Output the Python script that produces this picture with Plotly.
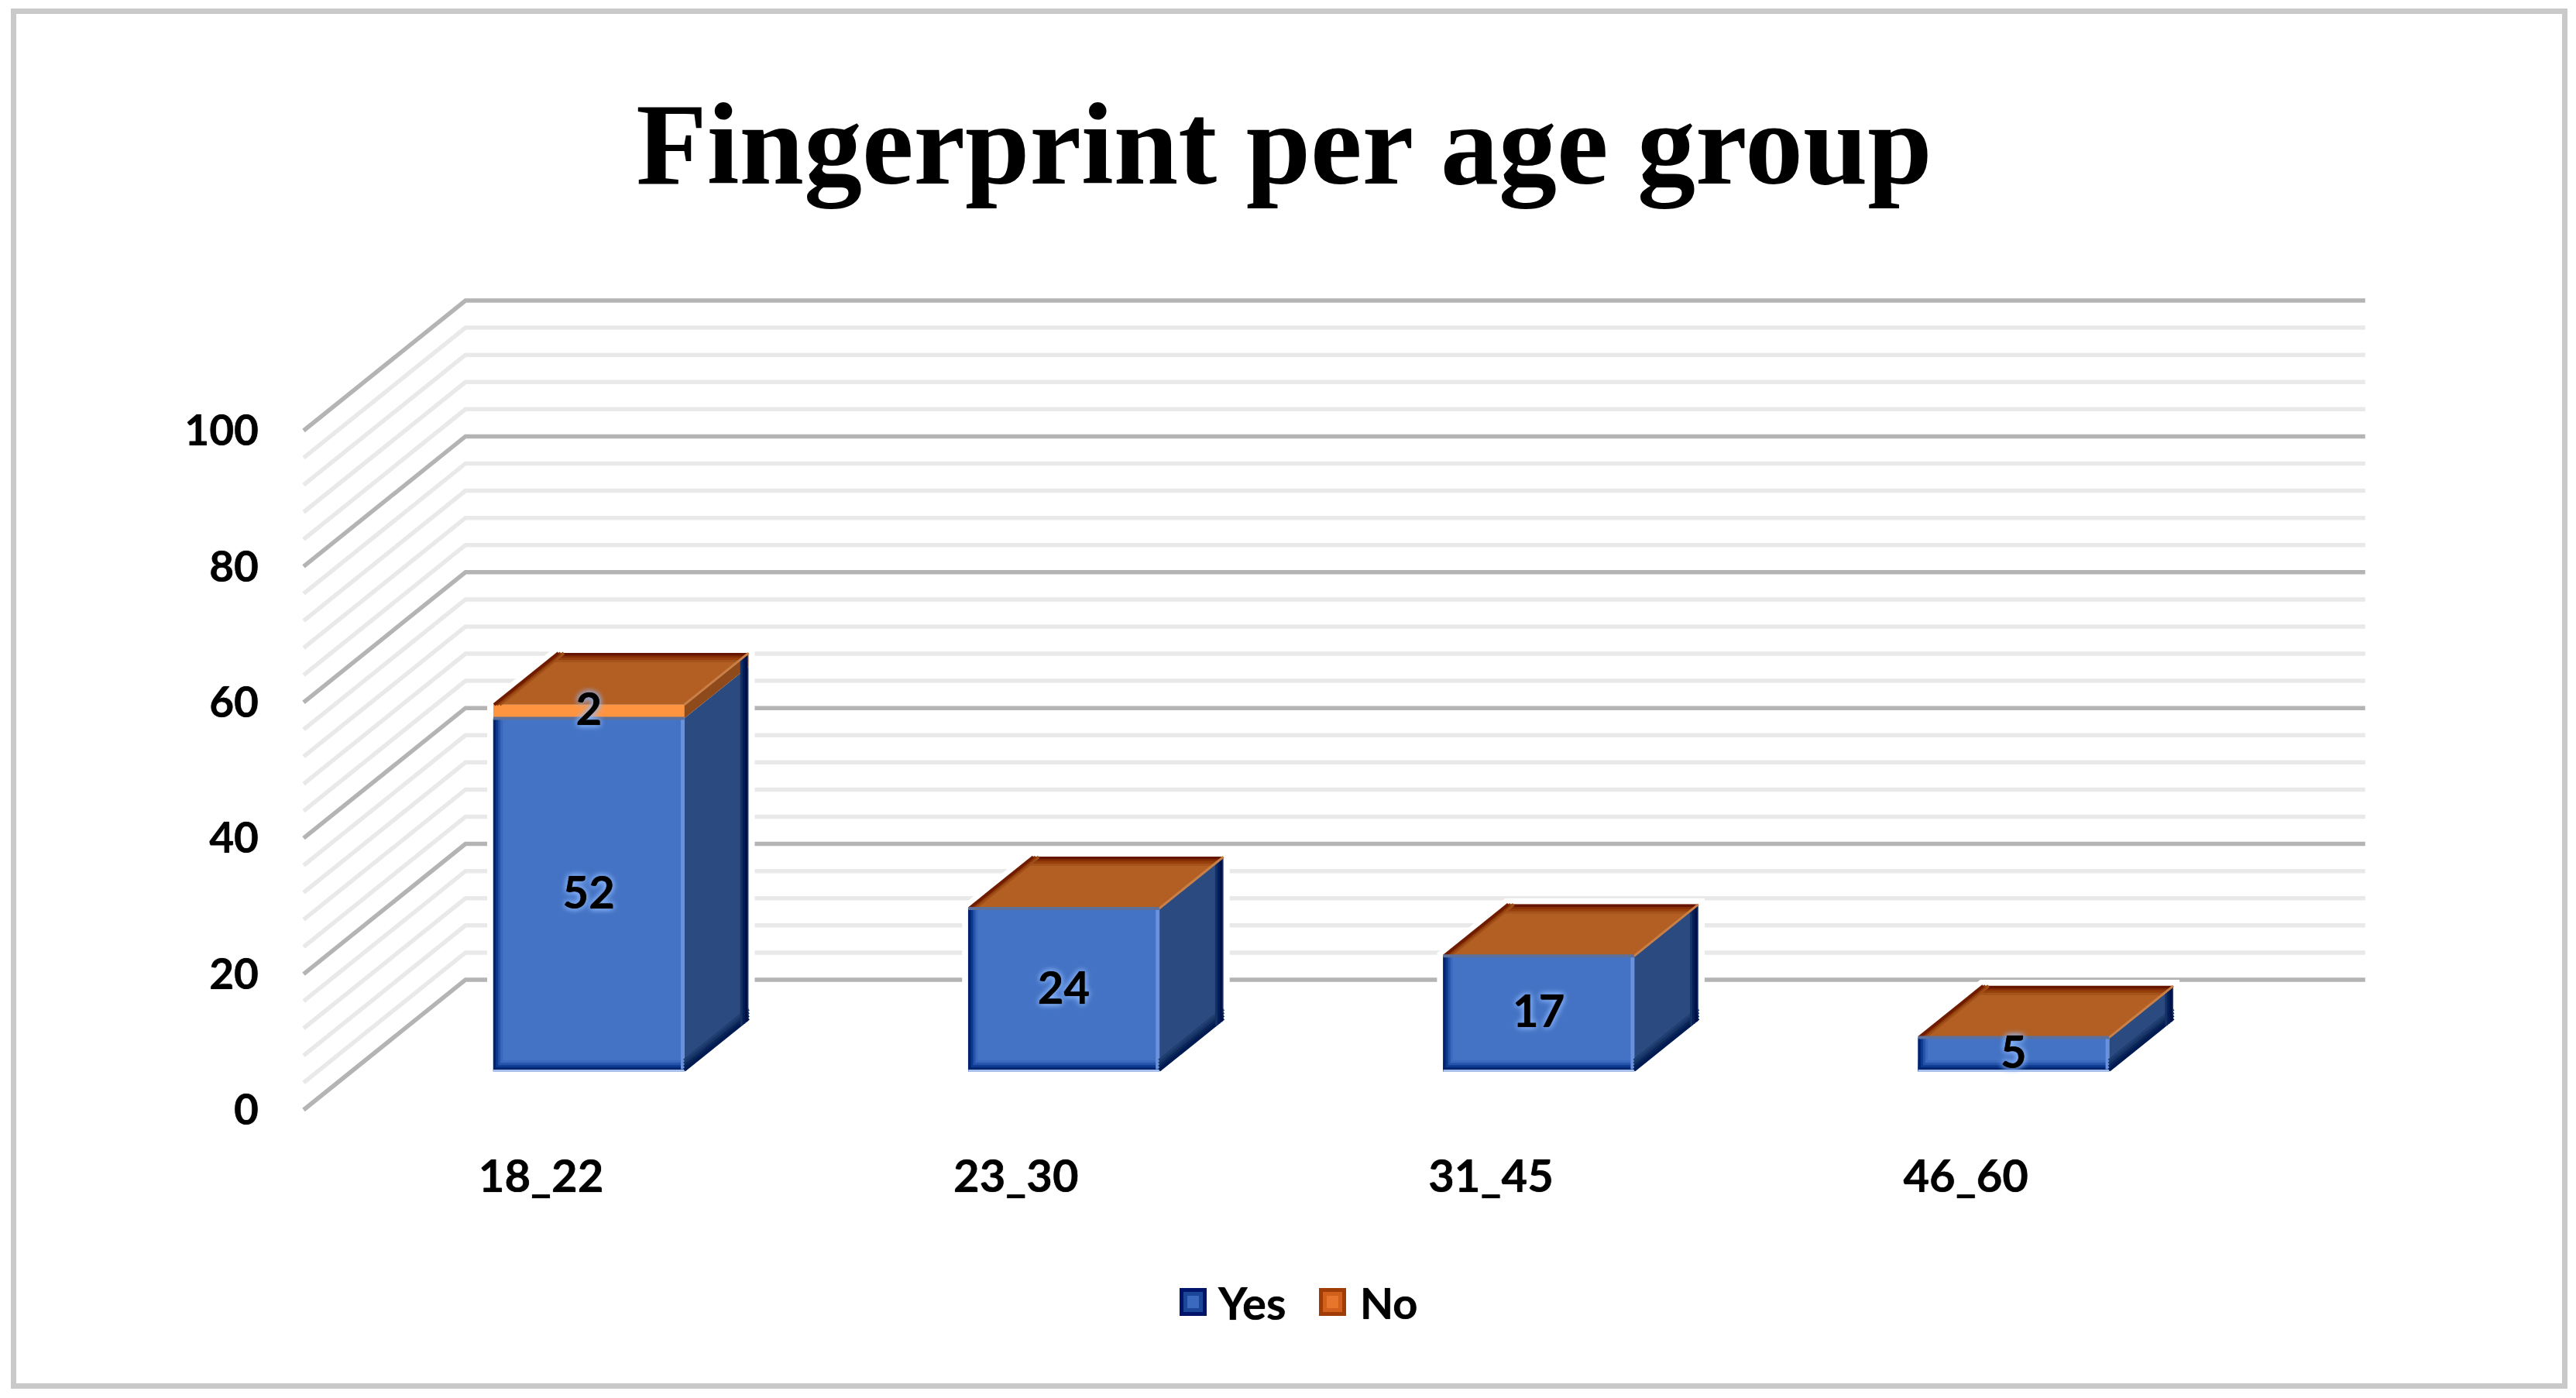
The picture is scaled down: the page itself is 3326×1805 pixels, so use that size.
import plotly.graph_objects as go

# ---- data ----
categories = ["18_22", "23_30", "31_45", "46_60"]
yes_values = [52, 24, 17, 5]
no_values = [2, 0, 0, 0]
major_ticks = [0, 20, 40, 60, 80, 100]
minor_ticks = [v for v in range(0, 101, 4) if v % 20 != 0]
title_text = "Fingerprint per age group"

# ---- geometry of the page / oblique projection ----
W, H = 3326, 1805
PX_PER_CAT = 613.2
PX_PER_UNIT = 8.77
LEFT_PX, BASE_PX = 392, 1433
DEPTH_PX_X, DEPTH_PX_Y = 209, 168
DX = DEPTH_PX_X / PX_PER_CAT
DY = DEPTH_PX_Y / PX_PER_UNIT
BAR_W = 0.402
D_FRONT, D_BACK = 0.295, 0.692
xr = [-0.5 - 10 / PX_PER_CAT, 3.5 + DX + 10 / PX_PER_CAT]
yr = [-1.0, 100 + DY + 1.0]
x_dom = [(LEFT_PX + (xr[0] + 0.5) * PX_PER_CAT) / W, (LEFT_PX + (xr[1] + 0.5) * PX_PER_CAT) / W]
y_dom = [1 - (BASE_PX - yr[0] * PX_PER_UNIT) / H, 1 - (BASE_PX - yr[1] * PX_PER_UNIT) / H]


def ux(px):
    return px / PX_PER_CAT


def uy(px):
    return px / PX_PER_UNIT


def P(x, v, d):
    return x + d * DX, v + d * DY


def poly_trace(polys, color):
    xs, ys = [], []
    for poly in polys:
        xs += [p[0] for p in poly] + [poly[0][0], None]
        ys += [p[1] for p in poly] + [poly[0][1], None]
    return go.Scatter(x=xs, y=ys, mode="lines", fill="toself", fillcolor=color,
                      line=dict(width=0, color=color), hoverinfo="skip",
                      showlegend=False, cliponaxis=False)


def seg_trace(segs, color, width):
    xs, ys = [], []
    for a, b in segs:
        xs += [a[0], b[0], None]
        ys += [a[1], b[1], None]
    return go.Scatter(x=xs, y=ys, mode="lines", line=dict(width=width, color=color),
                      hoverinfo="skip", showlegend=False, cliponaxis=False)


def path(pts, close=False):
    return "M" + " L".join(f"{a},{b}" for a, b in pts) + (" Z" if close else "")


shapes = []
# walls + gridlines
for vals, col, wd in ((minor_ticks, "#e9e9e9", 5.5), (major_ticks, "#b4b4b4", 5.5)):
    for v in vals:
        a = P(-0.5, v, 0)
        b = P(-0.5, v, 1)
        c = P(3.5, v, 1)
        shapes.append(dict(type="path", path=path([a, b, c]), xref="x", yref="y", layer="below",
                           line=dict(color=col, width=wd)))

centers = list(range(len(categories)))
left = [c - BAR_W / 2 for c in centers]
right = [c + BAR_W / 2 for c in centers]
yes_top = list(yes_values)
all_top = [a + b for a, b in zip(yes_values, no_values)]

# white halo round each block
for l, r, t in zip(left, right, all_top):
    sil = [P(l, 0, D_FRONT), P(r, 0, D_FRONT), P(r, 0, D_BACK), P(r, t, D_BACK), P(l, t, D_BACK), P(l, t, D_FRONT)]
    shapes.append(dict(type="path", path=path(sil, True), xref="x", yref="y", layer="below",
                       fillcolor="white", line=dict(color="white", width=16)))

# page frame
shapes.append(dict(type="rect", xref="paper", yref="paper", x0=17.5 / W, x1=3311.5 / W,
                   y0=1 - 1789.5 / H, y1=1 - 14.5 / H, line=dict(color="#c9c9c9", width=7), layer="below"))

# legend swatches
for x0, cols in ((1523, ("#00146a", "#1c4698", "#3c69c0")), (1703, ("#a03c05", "#d0601c", "#e8752c"))):
    for k, col in enumerate(cols):
        shapes.append(dict(type="rect", xref="paper", yref="paper",
                           x0=(x0 + 5 * k) / W, x1=(x0 + 35 - 5 * k) / W,
                           y0=1 - (1699 - 5 * k) / H, y1=1 - (1663 + 5 * k) / H,
                           fillcolor=col, line=dict(width=0), layer="above"))

fig = go.Figure()

# front faces
base0 = D_FRONT * DY
fig.add_trace(go.Bar(x=[c + D_FRONT * DX for c in centers], y=yes_values, base=[base0] * 4,
                     width=BAR_W, name="Yes", marker=dict(color="#4472C4", line=dict(width=0)),
                     showlegend=False, hoverinfo="skip"))
fig.add_trace(go.Bar(x=[c + D_FRONT * DX for c in centers], y=no_values,
                     base=[base0 + v for v in yes_values], width=BAR_W, name="No",
                     marker=dict(color="#FF9440", line=dict(width=0)),
                     showlegend=False, hoverinfo="skip"))

# side and top faces
side_yes = [[P(r, 0, D_FRONT), P(r, 0, D_BACK), P(r, t, D_BACK), P(r, t, D_FRONT)]
            for r, t in zip(right, yes_top)]
side_no = [[P(r, t0, D_FRONT), P(r, t0, D_BACK), P(r, t1, D_BACK), P(r, t1, D_FRONT)]
           for r, t0, t1 in zip(right, yes_top, all_top) if t1 > t0]
tops = [[P(l, t, D_FRONT), P(r, t, D_FRONT), P(r, t, D_BACK), P(l, t, D_BACK)]
        for l, r, t in zip(left, right, all_top)]
fig.add_trace(poly_trace(side_yes, "#2A4A80"))
fig.add_trace(poly_trace(side_no, "#8f4a1c"))
fig.add_trace(poly_trace(tops, "#B35E22"))

# bevel bands: front face, left and bottom
for off, col in ((10.5, "#3a68bd"), (7.5, "#2553aa"), (4.5, "#0d3a90"), (1.5, "#00246e")):
    fig.add_trace(seg_trace([(P(l + ux(off), 0, D_FRONT), P(l + ux(off), t, D_FRONT))
                             for l, t in zip(left, yes_top)], col, 3.5))
    fig.add_trace(seg_trace([(P(l, uy(off + 2), D_FRONT), P(r, uy(off + 2), D_FRONT))
                             for l, r in zip(left, right)], col, 3.5))
fig.add_trace(seg_trace([(P(l, uy(1), D_FRONT), P(r, uy(1), D_FRONT)) for l, r in zip(left, right)], "#a9c0ea", 3))
fig.add_trace(seg_trace([(P(r - ux(2), uy(3), D_FRONT), P(r - ux(2), t, D_FRONT))
                         for r, t in zip(right, yes_top)], "#6a92dc", 5))
# side face, bottom and right
for off, col in ((14, "#213e70"), (10, "#173466"), (6, "#0a2558"), (2, "#001a52")):
    fig.add_trace(seg_trace([(P(r, uy(off), D_FRONT), P(r, uy(off), D_BACK)) for r in right], col, 4.5))
for off, col in ((9, "#163060"), (6, "#001f5c"), (3, "#000f45")):
    d = D_BACK - off / DEPTH_PX_X
    fig.add_trace(seg_trace([(P(r, 0, d), P(r, t, d)) for r, t in zip(right, all_top)], col, 3.5))
# top face, back and left, plus its pale right edge
for off, col in ((10, "#a5531a"), (7, "#963f0c"), (4, "#852e05"), (1.5, "#661500")):
    d = D_BACK - off / DEPTH_PX_Y
    fig.add_trace(seg_trace([(P(l + ux(off * 0.3), t, d), P(r, t, d))
                             for l, r, t in zip(left, right, all_top)], col, 3.5))
for off, col in ((8, "#a04f18"), (4, "#8f3a08"), (1, "#701c00")):
    fig.add_trace(seg_trace([(P(l + ux(off), t, D_FRONT), P(l + ux(off), t, D_BACK))
                             for l, t in zip(left, all_top)], col, 4))
fig.add_trace(seg_trace([(P(r, t, D_FRONT), P(r, t, D_BACK)) for r, t in zip(right, all_top)], "#c98048", 3))
fig.add_trace(seg_trace([(P(l, t, D_FRONT), P(r, t, D_FRONT))
                         for l, r, t in zip(left, right, yes_top)], "#5d7099", 4))

# value labels
LABEL_DROP = uy(3)
lab_x, lab_y, lab_t = [], [], []
for c, y, n in zip(centers, yes_values, no_values):
    lab_x.append(P(c, 0, D_FRONT)[0])
    lab_y.append(P(c, y / 2, D_FRONT)[1] - LABEL_DROP)
    lab_t.append(str(y))
    if n:
        lab_x.append(P(c, 0, D_FRONT)[0])
        lab_y.append(P(c, y + n / 2, D_FRONT)[1] - LABEL_DROP)
        lab_t.append(str(n))
fig.add_trace(go.Scatter(x=lab_x, y=lab_y, text=lab_t, mode="text", textposition="middle center",
                         textfont=dict(family="Lato", size=58, color="black", weight=700,
                                       shadow="0 0 1px #000, 0 0 9px #8fbaff, 0 0 9px #8fbaff"),
                         hoverinfo="skip", showlegend=False, cliponaxis=False))

HEAVY = "0 0 1px #000"
ytick_font = dict(family="Lato", size=55, color="black", weight=700, shadow=HEAVY)
xtick_font = dict(family="Lato", size=58, color="black", weight=700, shadow=HEAVY)
fig.update_layout(
    width=W, height=H, margin=dict(l=0, r=0, t=0, b=0, autoexpand=False),
    paper_bgcolor="white", plot_bgcolor="rgba(0,0,0,0)", showlegend=False, barmode="overlay",
    title=dict(text=title_text, x=0.4985, xanchor="center", y=1 - 184 / H, yanchor="middle",
               font=dict(family="Liberation Serif", size=150, color="black", weight=700)),
    xaxis=dict(domain=x_dom, range=xr, tickmode="array", tickvals=centers, ticktext=categories,
               showgrid=False, zeroline=False, showline=False, ticks="", tickfont=xtick_font,
               ticklabelstandoff=38, automargin=False),
    yaxis=dict(domain=y_dom, range=yr, tickmode="array", tickvals=major_ticks,
               ticktext=[str(v) for v in major_ticks],
               showgrid=False, zeroline=False, showline=False, ticks="", tickfont=ytick_font,
               ticklabelstandoff=47, automargin=False),
    shapes=shapes,
    annotations=[
        dict(text="Yes", xref="paper", yref="paper", x=1570 / W, y=1 - 1681 / H, xanchor="left",
             yanchor="middle", showarrow=False,
             font=dict(family="Lato", size=58, color="black", weight=700, shadow=HEAVY)),
        dict(text="No", xref="paper", yref="paper", x=1754 / W, y=1 - 1681 / H, xanchor="left",
             yanchor="middle", showarrow=False,
             font=dict(family="Lato", size=56, color="black", weight=700, shadow=HEAVY)),
    ],
)

fig.write_html("out.html", config=dict(displayModeBar=False),
               post_script="document.body.style.margin='0';document.documentElement.style.overflow='hidden';")
